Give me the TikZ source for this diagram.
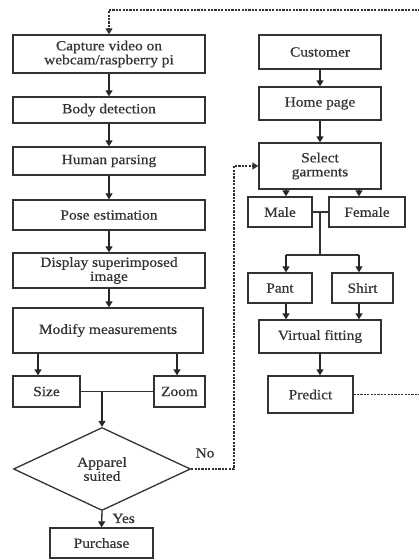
\documentclass[tikz,border=0pt]{standalone}
\usepackage{fontspec}
\setmainfont{Liberation Serif}[FakeStretch=1.1,FakeBold=0.6]
\usetikzlibrary{shapes.geometric,arrows.meta,calc}
\begin{document}
\begin{tikzpicture}[x=1pt,y=-1pt,
  box/.style={draw=black!80,line width=1.3pt,rectangle,inner sep=0pt,align=center,text=black!80,
    font=\fontsize{14}{14}\selectfont},
  arr/.style={draw=black!85,line width=1.3pt,-{Triangle[length=6pt,width=7pt]}},
  ln/.style={draw=black!80,line width=1.3pt},
  dsh/.style={draw=black!80,line width=1.2pt,dash pattern=on 2.2pt off 1.2pt},
  lbl/.style={text=black!80,font=\fontsize{14}{14}\selectfont,inner sep=0pt}]
\useasboundingbox (0,0) rectangle (419,560);
% left column
\node[box,minimum width=192pt,minimum height=38pt] (cap) at (109,54) {Capture video on\\webcam/raspberry pi};
\node[box,minimum width=192pt,minimum height=26pt] (body) at (109,110) {Body detection};
\node[box,minimum width=192pt,minimum height=28pt] (human) at (109,161) {Human parsing};
\node[box,minimum width=192pt,minimum height=30pt] (pose) at (109,215) {Pose estimation};
\node[box,minimum width=192pt,minimum height=35pt] (disp) at (109,270.5) {Display superimposed\\image};
\node[box,minimum width=190pt,minimum height=45pt] (mod) at (108,330.5) {Modify measurements};
\node[box,minimum width=67pt,minimum height=31pt] (size) at (46.5,391.5) {Size};
\node[box,minimum width=51pt,minimum height=31pt] (zoom) at (179.5,391.5) {Zoom};
\node[box,diamond,minimum width=177pt,minimum height=83pt] (dia) at (102,469) {Apparel\\suited};
\node[box,minimum width=103pt,minimum height=30pt] (pur) at (101.5,543) {Purchase};
% right column
\node[box,minimum width=122pt,minimum height=34pt] (cust) at (320,52) {Customer};
\node[box,minimum width=122pt,minimum height=33pt] (home) at (320,103.5) {Home page};
\node[box,minimum width=122pt,minimum height=46pt] (sel) at (320,166) {Select\\garments};
\node[box,minimum width=64pt,minimum height=30pt] (male) at (280,212) {Male};
\node[box,minimum width=76pt,minimum height=30pt] (fem) at (367,212) {Female};
\node[box,minimum width=64pt,minimum height=30pt] (pant) at (280,288) {Pant};
\node[box,minimum width=61pt,minimum height=30pt] (shirt) at (362.5,288) {Shirt};
\node[box,minimum width=122pt,minimum height=33pt] (vf) at (320,336.5) {Virtual fitting};
\node[box,minimum width=85pt,minimum height=37pt] (pred) at (310.5,394.5) {Predict};
% left connectors
\draw[arr] (cap) -- (body);
\draw[arr] (body) -- (human);
\draw[arr] (human) -- (pose);
\draw[arr] (pose) -- (disp);
\draw[arr] (disp.south) -- (disp.south |- mod.north);
\coordinate (sa) at (38,0);
\coordinate (za) at (177,0);
\draw[arr] (mod.south -| sa) -- (size.north -| sa);
\draw[arr] (mod.south -| za) -- (zoom.north -| za);
\draw[ln] (size.east) -- (zoom.west);
\coordinate (j1) at (dia.north |- size.east);
\draw[arr] (j1) -- (dia.north);
\draw[arr] (dia.south) -- (pur.north) node[lbl,pos=0.45,right=10pt] {Yes};
\coordinate (nb) at (234,0);
\draw[dsh,-{Triangle[length=6pt,width=7pt]}] (dia.east) -- (dia.east -| nb) -- (sel.west -| nb) -- (sel.west);
\node[lbl] (no) at (205,453) {No};
% right connectors
\draw[arr] (cust) -- (home);
\draw[arr] (home) -- (sel);
\coordinate (ma) at (286,0);
\coordinate (fa) at (359,0);
\draw[arr] (sel.south -| ma) -- (male.north -| ma);
\draw[arr] (sel.south -| fa) -- (fem.north -| fa);
\draw[ln] (male.east) -- (fem.west);
\coordinate (j2) at (320,212);
\coordinate (j3) at (320,255);
\draw[ln] (j2) -- (j3);
\draw[ln] (j3 -| ma) -- (j3 -| fa);
\draw[arr] (j3 -| ma) -- (pant.north -| ma);
\draw[arr] (j3 -| fa) -- (shirt.north -| fa);
\draw[arr] (pant.south -| ma) -- (vf.north -| ma);
\draw[arr] (shirt.south -| fa) -- (vf.north -| fa);
\coordinate (va) at (320,0);
\draw[arr] (vf.south -| va) -- (pred.north -| va);
% feedback loop (its right side runs just past the page edge)
\coordinate (re) at (421,0);
\coordinate (tp) at (0,10);
\draw[dsh,-{Triangle[length=6pt,width=7pt]}] (pred.east) -- (pred.east -| re) -- (re |- tp) -- (cap.north |- tp) -- (cap.north);
\end{tikzpicture}
\end{document}
